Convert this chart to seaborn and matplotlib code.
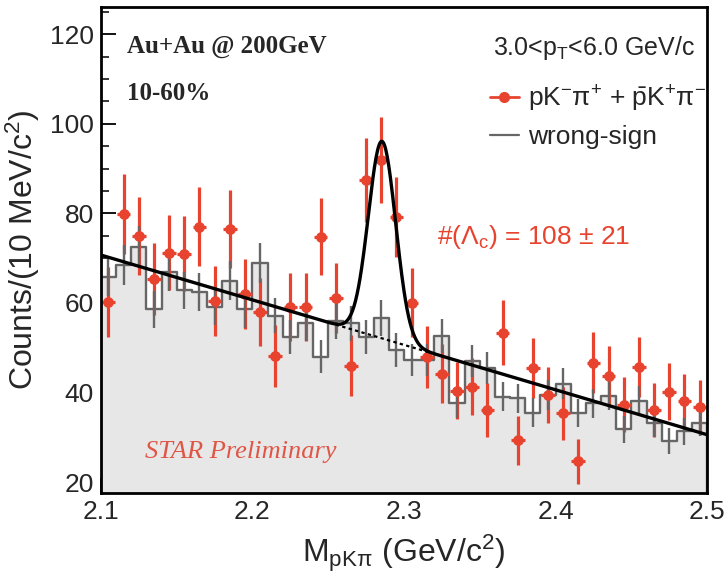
import numpy as np
import pandas as pd
import matplotlib
matplotlib.use("Agg")
import matplotlib.pyplot as plt
from matplotlib.lines import Line2D
from matplotlib.ticker import MultipleLocator
import seaborn as sns

# ---------------- data ----------------
bin_edges = [round(2.10 + 0.01 * i, 3) for i in range(41)]
bin_centers = [round(2.105 + 0.01 * i, 3) for i in range(40)]

signal_counts = [60.2, 79.9, 75.0, 65.4, 71.2, 71.0, 77.0, 60.5, 76.5, 62.0,
                 58.0, 48.2, 59.1, 59.1, 74.8, 61.2, 46.0, 87.5, 91.9, 79.2,
                 60.1, 48.0, 44.2, 40.4, 41.3, 36.1, 53.4, 29.3, 45.4, 39.5,
                 35.4, 24.6, 46.7, 43.7, 37.3, 45.7, 36.1, 40.2, 38.0, 36.7]
signal_errors = [7.8, 8.9, 8.7, 8.1, 8.4, 8.4, 8.8, 7.8, 8.7, 7.9,
                 7.6, 6.9, 7.7, 7.7, 8.6, 7.8, 6.8, 9.4, 9.6, 8.9,
                 7.8, 6.9, 6.6, 6.4, 6.4, 6.0, 7.3, 5.4, 6.7, 6.3,
                 5.9, 5.0, 6.8, 6.6, 6.1, 6.8, 6.0, 6.3, 6.2, 6.1]

ws_counts = [65.9, 68.5, 72.6, 58.6, 67.0, 62.8, 62.5, 59.1, 65.0, 58.6,
             68.9, 57.2, 52.5, 55.5, 48.0, 56.0, 55.5, 52.5, 56.6, 49.5,
             47.3, 47.3, 52.7, 37.6, 47.0, 45.4, 39.1, 38.7, 35.5, 39.5,
             42.0, 35.4, 37.6, 39.3, 31.8, 38.2, 33.2, 29.1, 31.3, 33.3]
ws_errors = [4.3, 4.4, 4.5, 4.1, 4.3, 4.2, 4.2, 4.1, 4.3, 4.1,
             4.4, 4.0, 3.8, 3.9, 3.7, 4.0, 3.9, 3.8, 4.0, 3.7,
             3.6, 3.6, 3.8, 3.3, 3.6, 3.6, 3.3, 3.3, 3.2, 3.3,
             3.4, 3.2, 3.3, 3.3, 3.0, 3.3, 3.1, 2.9, 3.0, 3.1]

# fit parameters (linear background + gaussian)
bg_intercept = 70.7      # value at 2.10
bg_slope = -100.3        # per GeV
peak_amp = 44.0
peak_mu = 2.2855
peak_sigma = 0.0090

x_ticks = [2.1, 2.2, 2.3, 2.4, 2.5]
x_ticklabels = ["2.1", "2.2", "2.3", "2.4", "2.5"]
y_ticks = [20, 40, 60, 80, 100, 120]
y_ticklabels = ["20", "40", "60", "80", "100", "120"]

# ---------------- style ----------------
sns.set_theme(style="white")
plt.rcParams["font.family"] = ["Liberation Sans", "DejaVu Sans"]
plt.rcParams["mathtext.fontset"] = "custom"
plt.rcParams["mathtext.rm"] = "Liberation Sans"
plt.rcParams["mathtext.it"] = "Liberation Sans:italic"
plt.rcParams["mathtext.bf"] = "Liberation Sans:bold"

RED = "#e8432e"
GRAY = "#666666"
FILL = "#e7e7e7"

fig = plt.figure(figsize=(7.26, 5.80), dpi=100)
ax = fig.add_axes([0.139, 0.1495, 0.835, 0.8385])

ws_df = pd.DataFrame({"m": bin_centers, "w": ws_counts})
sig_df = pd.DataFrame({"m": bin_centers, "n": signal_counts})

# wrong-sign filled step histogram
sns.histplot(data=ws_df, x="m", weights="w", bins=bin_edges, element="step",
             fill=True, color=FILL, alpha=1.0, edgecolor=GRAY, linewidth=1.7,
             ax=ax, zorder=1)

# red data error bars (under gray)
ax.errorbar(bin_centers, signal_counts, yerr=signal_errors, xerr=0.0045,
            fmt="none", ecolor=RED, elinewidth=2.3, capsize=0, zorder=2)

# gray error bars
ax.errorbar(bin_centers, ws_counts, yerr=ws_errors, fmt="none",
            ecolor=GRAY, elinewidth=1.7, capsize=0, zorder=3)

# red markers
sns.scatterplot(data=sig_df, x="m", y="n", color=RED, s=60, edgecolor=RED,
                linewidth=0, ax=ax, zorder=4, legend=False)

# fit curves
mm = np.linspace(2.1, 2.5, 801)
bg = bg_intercept + bg_slope * (mm - 2.1)
total = bg + peak_amp * np.exp(-0.5 * ((mm - peak_mu) / peak_sigma) ** 2)
fit_df = pd.DataFrame({"m": mm, "total": total, "bg": bg})
sns.lineplot(data=fit_df, x="m", y="total", color="black", linewidth=2.4,
             ax=ax, zorder=5)
bg_df = fit_df[(fit_df["m"] >= 2.255) & (fit_df["m"] <= 2.318)]
ax.plot(bg_df["m"], bg_df["bg"], color="black", linewidth=1.6,
        linestyle=(0, (1.5, 1.5)), zorder=5)

# axes
ax.set_xlim(2.1, 2.5)
ax.set_ylim(17.5, 126.1)
ax.set_xticks(x_ticks)
ax.set_xticklabels(x_ticklabels)
ax.set_yticks(y_ticks)
ax.set_yticklabels(y_ticklabels)
ax.xaxis.set_minor_locator(MultipleLocator(0.02))
ax.yaxis.set_minor_locator(MultipleLocator(5))
ax.tick_params(axis="both", which="major", direction="in", length=11,
               width=1.3, labelsize=19, color="black", pad=5,
               bottom=True, left=True, top=False, right=False)
ax.tick_params(axis="both", which="minor", direction="in", length=5.5,
               width=1.1, color="black", bottom=True, left=True,
               top=False, right=False)
for sp in ax.spines.values():
    sp.set_visible(True)
    sp.set_color("black")
    sp.set_linewidth(2.0)
ax.set_facecolor("white")
ax.grid(False)

ax.set_xlabel(r"M$_{\mathrm{pKπ}}$ (GeV/c$^{2}$)", fontsize=23, labelpad=6)
ax.set_ylabel(r"Counts/(10 MeV/c$^{2}$)", fontsize=23, labelpad=6)

# texts
ax.text(0.043, 0.918, "Au+Au @ 200GeV", transform=ax.transAxes,
        fontsize=18, fontweight="bold", family="Liberation Serif",
        va="center", ha="left")
ax.text(0.043, 0.822, "10-60%", transform=ax.transAxes,
        fontsize=18, fontweight="bold", family="Liberation Serif",
        va="center", ha="left")
ax.text(0.98, 0.916, r"3.0<p$_{\mathrm{T}}$<6.0 GeV/c", transform=ax.transAxes,
        fontsize=18, va="center", ha="right")
ax.text(0.554, 0.527, r"#($\Lambda_{\mathrm{c}}$) = 108 $\pm$ 21",
        transform=ax.transAxes, fontsize=19, color=RED, va="center", ha="left")
ax.text(0.073, 0.085, "STAR Preliminary", transform=ax.transAxes,
        fontsize=19, style="italic", family="Liberation Serif",
        color="#e05545", va="center", ha="left")

handles = [Line2D([0], [0], color=RED, lw=2.0, marker="o", markersize=7),
           Line2D([0], [0], color=GRAY, lw=1.6)]
labels = [r"pK$^{-}$π$^{+}$ + $\bar{\mathrm{p}}$K$^{+}$π$^{-}$", "wrong-sign"]
ax.legend(handles, labels, loc="center left", bbox_to_anchor=(0.62, 0.775),
          frameon=False, fontsize=19, handlelength=1.1, handletextpad=0.35,
          labelspacing=0.45, borderpad=0)

fig.savefig("out.png", dpi=100)
